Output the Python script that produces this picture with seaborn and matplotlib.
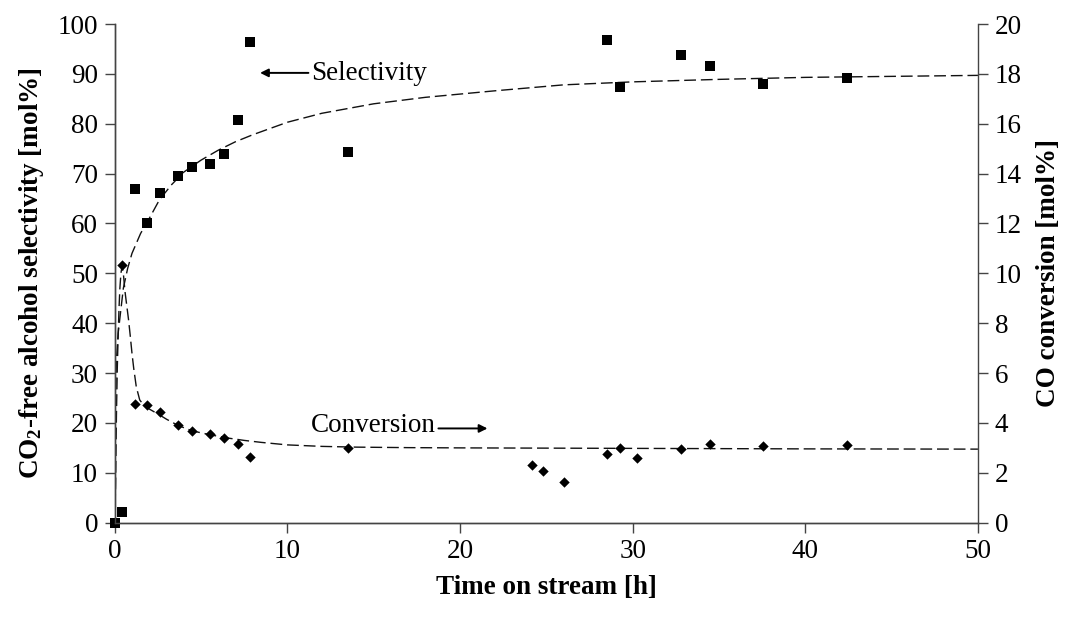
import matplotlib
matplotlib.use("Agg")
import matplotlib.pyplot as plt
import seaborn as sns

# ---------------- data ----------------
# measured selectivity (left axis, mol%)
sel_t = [0, 0.42, 1.19, 1.88, 2.6, 3.67, 4.47, 5.5, 6.33, 7.17, 7.86, 13.5,
         28.5, 29.25, 32.8, 34.5, 37.55, 42.4]
sel_v = [0, 2.2, 66.9, 60.1, 66.2, 69.5, 71.4, 72.0, 73.9, 80.7, 96.4, 74.3,
         96.8, 87.4, 93.7, 91.5, 87.9, 89.2]

# measured CO conversion (right axis, mol%)
conv_t = [0.43, 1.19, 1.88, 2.6, 3.67, 4.47, 5.5, 6.33, 7.17, 7.86, 13.5,
          24.15, 24.8, 26.0, 28.5, 29.25, 30.25, 32.8, 34.5, 37.55, 42.4]
conv_v = [10.33, 4.76, 4.70, 4.43, 3.92, 3.69, 3.57, 3.41, 3.16, 2.65, 3.01,
          2.31, 2.07, 1.62, 2.75, 3.01, 2.60, 2.97, 3.15, 3.07, 3.10]

# fitted trend lines
sel_fit_t = [0, 0.02, 0.05, 0.1, 0.2, 0.3, 0.5, 0.75, 1.0, 1.5, 2.0, 2.6, 3.3,
             4.0, 5.0, 6.0, 7.0, 8.0, 10.0, 12.0, 15.0, 18.0, 22.0, 26.0,
             30.0, 35.0, 40.0, 45.0, 50.0]
sel_fit_v = [0, 15, 25, 32.6, 38, 41, 47, 51, 54, 58, 61, 64.8, 67.8,
             70.3, 72.7, 74.7, 76.4, 77.8, 80.3, 82.1, 84.0, 85.3, 86.6, 87.8,
             88.4, 88.9, 89.3, 89.5, 89.7]

conv_fit_t = [0, 0.05, 0.1, 0.15, 0.2, 0.25, 0.3, 0.36, 0.43, 0.5, 0.6, 0.7,
              0.8, 0.9, 1.0, 1.1, 1.25, 1.45, 1.7, 2.0, 2.6, 3.0, 3.67, 4.5,
              5.5, 6.5, 7.5, 8.5, 10, 12, 14, 17, 20, 25, 30, 40, 50]
conv_fit_v = [0, 1.5, 4.3, 6.2, 7.5, 8.6, 9.4, 10.0, 10.3, 10.0, 9.25, 8.7,
              8.15, 7.5, 6.8, 6.2, 5.45, 4.92, 4.7, 4.56, 4.32, 4.15, 3.9,
              3.68, 3.53, 3.40, 3.30, 3.22, 3.12, 3.06, 3.03, 3.01, 3.0, 2.99,
              2.98, 2.96, 2.95]

x_ticks = [0, 10, 20, 30, 40, 50]
left_ticks = [0, 10, 20, 30, 40, 50, 60, 70, 80, 90, 100]
right_ticks = [0, 2, 4, 6, 8, 10, 12, 14, 16, 18, 20]

# ---------------- style ----------------
sns.set_theme(style="ticks")
plt.rcParams["font.family"] = ["Liberation Serif", "DejaVu Serif"]
plt.rcParams["mathtext.fontset"] = "custom"
plt.rcParams["mathtext.rm"] = "Liberation Serif:bold"
plt.rcParams["mathtext.bf"] = "Liberation Serif:bold"
plt.rcParams["mathtext.it"] = "Liberation Serif:bold"
plt.rcParams["text.color"] = "black"
plt.rcParams["axes.labelcolor"] = "black"
plt.rcParams["xtick.labelcolor"] = "black"
plt.rcParams["ytick.labelcolor"] = "black"

FS = 19.5
DASH = (0, (8.5, 3.5))
SPINE = "#444444"

fig = plt.figure(figsize=(10.66, 6.19), dpi=100)
ax = fig.add_axes([0.1076, 0.1556, 0.8098, 0.8056])
ax2 = ax.twinx()

# selectivity
sns.lineplot(x=sel_fit_t, y=sel_fit_v, ax=ax, color="#111111", lw=1.0,
             linestyle=DASH, estimator=None, sort=False)
sns.scatterplot(x=sel_t, y=sel_v, ax=ax, marker="s", s=48, color="black",
                edgecolor="black", linewidth=0, clip_on=False, zorder=5)

# conversion
sns.lineplot(x=conv_fit_t, y=conv_fit_v, ax=ax2, color="#111111", lw=1.0,
             linestyle=DASH, estimator=None, sort=False)
sns.scatterplot(x=conv_t, y=conv_v, ax=ax2, marker="D", s=28, color="black",
                edgecolor="black", linewidth=0, clip_on=False, zorder=5)

ax.set_xlim(0, 50)
ax.set_ylim(0, 100)
ax2.set_ylim(0, 20)
ax.set_xticks(x_ticks)
ax.set_yticks(left_ticks)
ax2.set_yticks(right_ticks)

for a in (ax, ax2):
    a.spines["top"].set_visible(False)
    for s in ("left", "right", "bottom"):
        a.spines[s].set_color(SPINE)
        a.spines[s].set_linewidth(1.0)
    a.tick_params(direction="out", length=7, width=1, color=SPINE,
                  labelsize=FS, labelcolor="black", pad=5)
ax.spines["right"].set_visible(False)

ax.set_xlabel("Time on stream [h]", fontsize=FS, fontweight="bold",
              labelpad=8, color="black")
ax.set_ylabel("CO$_2$-free alcohol selectivity [mol%]", fontsize=FS,
              fontweight="bold", labelpad=8, color="black")
ax2.set_ylabel("CO conversion [mol%]", fontsize=FS, fontweight="bold",
               labelpad=10, color="black")

# annotations
ax.annotate("", xy=(8.42, 90.2), xytext=(11.22, 90.2),
            arrowprops=dict(arrowstyle="-|>", color="black", lw=1.4,
                            mutation_scale=12, shrinkA=0, shrinkB=0))
ax.text(11.37, 90.0, "Selectivity", ha="left", va="center", fontsize=FS,
        color="black")

ax.annotate("", xy=(21.59, 18.9), xytext=(18.75, 18.9),
            arrowprops=dict(arrowstyle="-|>", color="black", lw=1.4,
                            mutation_scale=12, shrinkA=0, shrinkB=0))
ax.text(18.6, 19.4, "Conversion", ha="right", va="center", fontsize=FS,
        color="black")

fig.savefig("out.png", dpi=100)
